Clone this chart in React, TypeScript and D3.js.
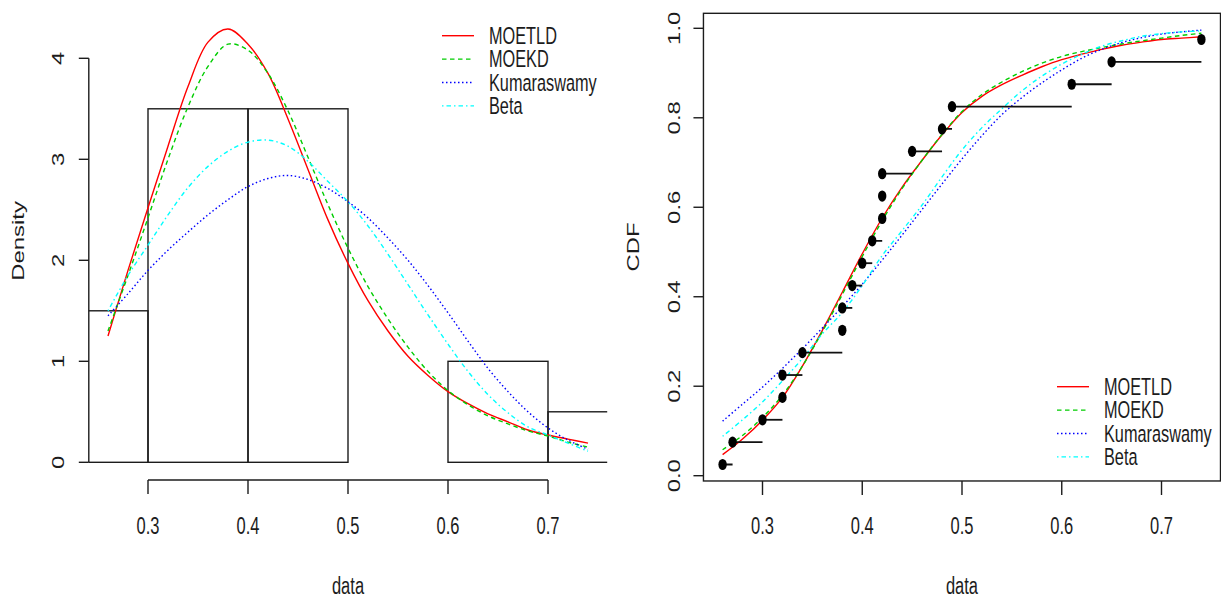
import * as d3 from "d3";
import React from "react";

// fitted curves evaluated on a common grid
const gridX = [0.26, 0.28, 0.3, 0.32, 0.34, 0.36, 0.38, 0.4, 0.42, 0.44, 0.46, 0.48, 0.5,
  0.52, 0.54, 0.56, 0.58, 0.6, 0.62, 0.64, 0.66, 0.68, 0.7, 0.72, 0.74];

const pdfMOETLD = [1.25, 1.9, 2.52, 3.13, 3.72, 4.16, 4.29, 4.14, 3.85, 3.4, 2.9, 2.4, 1.97,
  1.6, 1.3, 1.05, 0.86, 0.7, 0.58, 0.48, 0.4, 0.32, 0.27, 0.23, 0.19];
const pdfMOEKD = [1.3, 1.85, 2.42, 3.0, 3.52, 3.92, 4.14, 4.08, 3.85, 3.48, 3.02, 2.55, 2.12,
  1.74, 1.42, 1.14, 0.9, 0.71, 0.57, 0.46, 0.38, 0.31, 0.26, 0.2, 0.15];
const pdfKuma = [1.45, 1.67, 1.9, 2.1, 2.28, 2.45, 2.6, 2.73, 2.81, 2.84, 2.8, 2.71, 2.58,
  2.42, 2.22, 2.0, 1.75, 1.48, 1.2, 0.93, 0.7, 0.5, 0.34, 0.22, 0.13];
const pdfBeta = [1.5, 1.85, 2.15, 2.45, 2.72, 2.93, 3.08, 3.17, 3.19, 3.13, 2.98, 2.78, 2.58,
  2.34, 2.06, 1.76, 1.46, 1.17, 0.9, 0.67, 0.49, 0.35, 0.27, 0.19, 0.11];

const cdfMOETLD = [0.047, 0.082, 0.124, 0.175, 0.245, 0.325, 0.41, 0.496, 0.576, 0.645, 0.705, 0.762, 0.812,
  0.848, 0.874, 0.895, 0.914, 0.93, 0.942, 0.953, 0.962, 0.969, 0.975, 0.978, 0.981];
const cdfMOEKD = [0.058, 0.09, 0.13, 0.18, 0.245, 0.322, 0.405, 0.49, 0.57, 0.642, 0.705, 0.763, 0.814,
  0.852, 0.88, 0.903, 0.922, 0.937, 0.948, 0.957, 0.965, 0.972, 0.978, 0.984, 0.989];
const cdfKuma = [0.122, 0.16, 0.198, 0.24, 0.284, 0.33, 0.378, 0.428, 0.482, 0.538, 0.595, 0.652, 0.708,
  0.76, 0.807, 0.845, 0.878, 0.907, 0.933, 0.953, 0.968, 0.979, 0.987, 0.992, 0.996];
const cdfBeta = [0.088, 0.125, 0.165, 0.212, 0.262, 0.317, 0.365, 0.425, 0.492, 0.548, 0.605, 0.668, 0.728,
  0.778, 0.82, 0.86, 0.893, 0.92, 0.942, 0.96, 0.972, 0.982, 0.988, 0.992, 0.994];

// histogram
const histBreaks = [0.2, 0.3, 0.4, 0.5, 0.6, 0.7, 0.8];
const histDensity = [1.5, 3.5, 3.5, 0, 1, 0.5];

// empirical cdf
const sample = [0.26, 0.27, 0.3, 0.32, 0.32, 0.34, 0.38, 0.38, 0.39, 0.4, 0.41, 0.42, 0.42, 0.42,
  0.45, 0.48, 0.49, 0.61, 0.65, 0.74];
const ecdfY = [0.025, 0.075, 0.125, 0.175, 0.225, 0.275, 0.325, 0.375, 0.425, 0.475, 0.525, 0.575,
  0.625, 0.675, 0.725, 0.775, 0.825, 0.875, 0.925, 0.975];

const xTicks = [0.3, 0.4, 0.5, 0.6, 0.7];
const densTicks = [0, 1, 2, 3, 4];
const cdfTicks = [0, 0.2, 0.4, 0.6, 0.8, 1.0];

const seriesNames = ["MOETLD", "MOEKD", "Kumaraswamy", "Beta"];
const seriesColors = ["#ff0000", "#00cd00", "#0000ff", "#00ffff"];
const seriesDash = [null, "4.5,3.5", "1.5,2.5", "1.5,3,4.5,3"];
const pdfs = [pdfMOETLD, pdfMOEKD, pdfKuma, pdfBeta];
const cdfs = [cdfMOETLD, cdfMOEKD, cdfKuma, cdfBeta];

const SY = 1.45; // the source picture is stretched vertically
const INK = "#1c1c1c";
const FONT = "'Liberation Sans', Arial, sans-serif";

function Label({ x, y, text, anchor = "middle", rotate = false, size = 16.5 }) {
  return (
    <text
      transform={`translate(${x},${y}) scale(1,${SY})${rotate ? " rotate(-90)" : ""}`}
      textAnchor={anchor}
      dominantBaseline="central"
      fontSize={size}
      fontFamily={FONT}
      fill={INK}
    >
      {text}
    </text>
  );
}

function Legend({ x, y }) {
  return (
    <g>
      {seriesNames.map((name, i) => (
        <g key={name}>
          <line x1={x} x2={x + 32} y1={y + i * 23.4} y2={y + i * 23.4}
            stroke={seriesColors[i]} strokeWidth={1.4}
            strokeDasharray={seriesDash[i] || undefined} />
          <Label x={x + 47} y={y + i * 23.4} text={name} anchor="start" size={16.3} />
        </g>
      ))}
    </g>
  );
}

export default function App() {
  // left panel: histogram + densities
  const xL = d3.scaleLinear().domain([0.3, 0.7]).range([148, 548]);
  const yL = d3.scaleLinear().domain([0, 4]).range([462.3, 58.3]);
  const leftClip = { x0: xL(0.2408), x1: xL(0.7592), y0: 2.7, y1: 480 };

  // right panel: ecdf + fitted cdfs
  const xR = d3.scaleLinear().domain([0.3, 0.7]).range([762.5, 1161.5]);
  const yR = d3.scaleLinear().domain([0, 1]).range([475.7, 28.3]);
  const box = { x0: xR(0.2408), x1: 1220.5, y0: yR(1.0335), y1: yR(-0.0118) };

  const lineL = d3.line<number>().x((_, i) => xL(gridX[i])).y(d => yL(d)).curve(d3.curveCatmullRom);
  const lineR = d3.line<number>().x((_, i) => xR(gridX[i])).y(d => yR(d)).curve(d3.curveCatmullRom);

  return (
    <svg width={1221} height={599} style={{ position: "absolute", left: 0, top: 0, display: "block", background: "#fff" }}>
      <defs>
        <clipPath id="clipL">
          <rect x={leftClip.x0} y={leftClip.y0} width={leftClip.x1 - leftClip.x0} height={leftClip.y1 - leftClip.y0} />
        </clipPath>
        <clipPath id="clipR">
          <rect x={box.x0} y={box.y0} width={box.x1 - box.x0} height={box.y1 - box.y0} />
        </clipPath>
      </defs>

      {/* ---------- left panel ---------- */}
      <g clipPath="url(#clipL)">
        {histDensity.map((d, i) => (
          <rect key={i} x={xL(histBreaks[i])} y={yL(d)}
            width={xL(histBreaks[i + 1]) - xL(histBreaks[i])} height={yL(0) - yL(d)}
            fill="none" stroke={INK} strokeWidth={1.4} />
        ))}
        {pdfs.map((p, i) => (
          <path key={i} d={lineL(p) || ""} fill="none" stroke={seriesColors[i]} strokeWidth={1.4}
            strokeDasharray={seriesDash[i] || undefined} />
        ))}
      </g>
      {/* y axis */}
      <line x1={leftClip.x0} x2={leftClip.x0} y1={yL(0)} y2={yL(4)} stroke={INK} strokeWidth={1.4} />
      {densTicks.map(t => (
        <g key={t}>
          <line x1={leftClip.x0 - 10} x2={leftClip.x0} y1={yL(t)} y2={yL(t)} stroke={INK} strokeWidth={1.4} />
          <Label x={58} y={yL(t)} text={String(t)} rotate />
        </g>
      ))}
      {/* x axis */}
      <line x1={xL(0.3)} x2={xL(0.7)} y1={480} y2={480} stroke={INK} strokeWidth={1.4} />
      {xTicks.map(t => (
        <g key={t}>
          <line x1={xL(t)} x2={xL(t)} y1={480} y2={494} stroke={INK} strokeWidth={1.4} />
          <Label x={xL(t)} y={525} text={t.toFixed(1)} />
        </g>
      ))}
      <Label x={(leftClip.x0 + leftClip.x1) / 2} y={585} text="data" />
      <Label x={18} y={241} text="Density" rotate />
      <Legend x={442} y={35.7} />

      {/* ---------- right panel ---------- */}
      <g clipPath="url(#clipR)">
        {cdfs.map((c, i) => (
          <path key={i} d={lineR(c) || ""} fill="none" stroke={seriesColors[i]} strokeWidth={1.4}
            strokeDasharray={seriesDash[i] || undefined} />
        ))}
        {sample.map((s, i) => i < sample.length - 1 && sample[i + 1] > s ? (
          <line key={"s" + i} x1={xR(s)} x2={xR(sample[i + 1])} y1={yR(ecdfY[i])} y2={yR(ecdfY[i])}
            stroke="#111" strokeWidth={1.8} />
        ) : null)}
        {sample.map((s, i) => (
          <ellipse key={"p" + i} cx={xR(s)} cy={yR(ecdfY[i])} rx={4.2} ry={5.6} fill="#000" />
        ))}
      </g>
      <rect x={box.x0} y={box.y0} width={box.x1 - box.x0} height={box.y1 - box.y0}
        fill="none" stroke={INK} strokeWidth={1.4} />
      {cdfTicks.map(t => (
        <g key={t}>
          <line x1={box.x0 - 10} x2={box.x0} y1={yR(t)} y2={yR(t)} stroke={INK} strokeWidth={1.4} />
          <Label x={673.5} y={yR(t)} text={t.toFixed(1)} rotate />
        </g>
      ))}
      {xTicks.map(t => (
        <g key={t}>
          <line x1={xR(t)} x2={xR(t)} y1={box.y1} y2={box.y1 + 14} stroke={INK} strokeWidth={1.4} />
          <Label x={xR(t)} y={525} text={t.toFixed(1)} />
        </g>
      ))}
      <Label x={(box.x0 + box.x1) / 2} y={585} text="data" />
      <Label x={633} y={247} text="CDF" rotate />
      <Legend x={1057} y={386.7} />
    </svg>
  );
}
